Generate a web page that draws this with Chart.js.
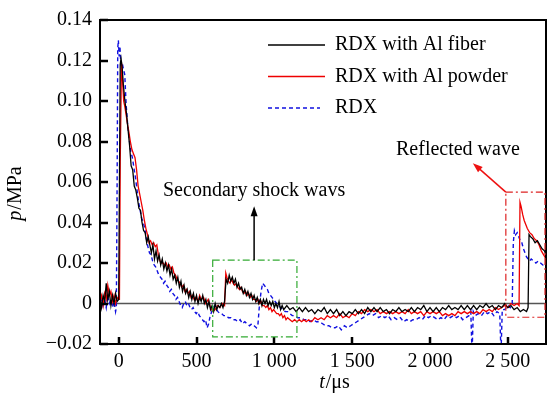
<!doctype html>
<html lang="en">
<head>
  <meta charset="utf-8">
  <title>Pressure history</title>
  <style>
    * { margin: 0; padding: 0; }
    body { background: #fff; }
    .chartBox { width: 547px; height: 395px; }
  </style>
</head>
<body>
  <div class="chartBox"><canvas id="myChart" width="547" height="395"></canvas></div>
  <script src="https://cdn.jsdelivr.net/npm/chart.js/dist/chart.umd.min.js"></script>
  <script>
    // setup
    const seriesNames = ['RDX with Al fiber', 'RDX with Al powder', 'RDX'];
    const yTicks = [-0.02, 0, 0.02, 0.04, 0.06, 0.08, 0.10, 0.12, 0.14];
    const yTickLabels = ['\u22120.02', '0', '0.02', '0.04', '0.06', '0.08', '0.10', '0.12', '0.14'];
    const xTicks = [0, 500, 1000, 1500, 2000, 2500];
    const xTickLabels = ['0', '500', '1 000', '1 500', '2 000', '2 500'];

    // RDX with Al fiber
    const fiberT = [-120,-110,-100,-90,-80,-70,-60,-50,-40,-30,-20,-10,0,5,10,15,22,30,40,50,60,70,80,90,100,110,120,130,140,150,160,170,180,190,200,210,220,230,240,250,260,270,280,290,300,310,320,330,340,350,360,370,380,390,400,410,420,430,440,450,460,470,480,490,500,510,520,530,540,550,560,570,580,590,600,610,620,630,640,650,660,670,680,690,700,710,720,730,740,750,760,770,780,790,800,810,820,830,840,850,860,870,880,890,900,910,920,930,940,950,960,970,980,990,1000,1010,1020,1030,1040,1050,1060,1080,1100,1120,1140,1160,1180,1200,1220,1240,1260,1280,1300,1320,1340,1360,1380,1400,1420,1440,1460,1480,1500,1520,1540,1560,1580,1600,1620,1640,1660,1680,1700,1720,1740,1760,1780,1800,1820,1840,1860,1880,1900,1920,1940,1960,1980,2000,2020,2040,2060,2080,2100,2120,2140,2160,2180,2200,2220,2240,2260,2280,2300,2320,2340,2360,2380,2400,2420,2440,2460,2480,2500,2520,2540,2560,2580,2600,2620,2630,2636,2645,2660,2675,2690,2705,2720,2735,2745];
    const fiberP = [0.003,-0.002,0.004,0.001,0.010,0.002,0.006,-0.001,0.004,0.000,0.005,0.001,0.002,0.060,0.118,0.121,0.117,0.108,0.100,0.094,0.086,0.078,0.068,0.066,0.058,0.056,0.052,0.047,0.046,0.040,0.036,0.035,0.030,0.033,0.029,0.025,0.029,0.022,0.026,0.021,0.024,0.019,0.022,0.017,0.020,0.016,0.019,0.014,0.017,0.012,0.014,0.010,0.013,0.008,0.011,0.006,0.009,0.005,0.007,0.003,0.006,0.002,0.005,0.001,0.004,0.000,0.003,0.001,0.004,0.000,0.002,-0.002,0.001,-0.003,-0.001,-0.004,0.000,-0.003,-0.001,-0.002,0.000,-0.002,0.001,0.012,0.010,0.014,0.011,0.013,0.010,0.012,0.008,0.010,0.007,0.008,0.005,0.007,0.004,0.006,0.003,0.005,0.002,0.004,0.001,0.003,0.000,0.002,-0.001,0.002,0.000,0.002,-0.001,0.001,-0.001,0.001,-0.002,0.000,-0.002,0.001,-0.003,-0.001,-0.003,-0.001,-0.003,-0.002,-0.004,-0.002,-0.004,-0.002,-0.004,-0.003,-0.005,-0.003,-0.004,-0.002,-0.005,-0.003,-0.005,-0.003,-0.006,-0.004,-0.006,-0.004,-0.005,-0.003,-0.005,-0.003,-0.005,-0.002,-0.004,-0.002,-0.004,-0.002,-0.004,-0.003,-0.005,-0.003,-0.004,-0.002,-0.004,-0.003,-0.004,-0.002,-0.004,-0.002,-0.003,-0.001,-0.004,-0.002,-0.004,-0.002,-0.004,-0.002,-0.003,-0.001,-0.003,-0.002,-0.003,-0.001,-0.003,-0.001,-0.003,-0.001,-0.003,-0.001,-0.002,0.000,-0.002,-0.001,-0.003,-0.001,-0.002,0.000,-0.002,-0.001,-0.003,-0.002,-0.004,-0.003,-0.004,-0.002,0.034,0.033,0.032,0.030,0.031,0.029,0.027,0.026,0.024];

    // RDX with Al powder
    const powderT = [-120,-110,-100,-90,-80,-70,-60,-50,-40,-30,-20,-10,0,5,10,18,25,32,40,50,58,65,75,85,95,105,115,125,135,145,155,165,175,185,195,205,215,225,235,245,255,265,275,285,295,305,315,325,335,345,355,365,375,385,395,405,415,425,435,445,455,465,475,485,495,510,520,530,545,560,575,590,605,620,635,650,665,680,688,695,705,715,725,735,745,755,765,775,785,795,805,815,825,835,845,855,865,875,885,895,905,915,925,935,945,955,965,975,985,995,1005,1015,1025,1035,1045,1055,1065,1075,1085,1100,1115,1130,1145,1160,1175,1190,1205,1220,1240,1260,1280,1300,1320,1340,1360,1380,1400,1420,1440,1460,1480,1500,1520,1540,1560,1580,1600,1620,1640,1660,1680,1700,1720,1740,1760,1780,1800,1820,1840,1860,1880,1900,1920,1940,1960,1980,2000,2020,2040,2060,2080,2100,2120,2140,2160,2180,2200,2220,2240,2260,2280,2300,2320,2340,2360,2380,2400,2420,2440,2460,2480,2500,2520,2540,2560,2572,2578,2585,2595,2605,2615,2625,2640,2655,2670,2685,2700,2715,2730,2745];
    const powderP = [0.001,0.004,-0.001,0.005,0.002,0.009,0.004,0.006,0.001,0.004,0.000,0.003,0.002,0.002,0.070,0.119,0.110,0.100,0.097,0.092,0.088,0.085,0.080,0.076,0.074,0.072,0.066,0.058,0.054,0.050,0.046,0.041,0.037,0.034,0.030,0.031,0.029,0.030,0.028,0.029,0.024,0.021,0.020,0.020,0.019,0.020,0.018,0.019,0.017,0.018,0.015,0.014,0.012,0.011,0.010,0.008,0.009,0.006,0.007,0.005,0.006,0.003,0.004,0.002,0.003,0.001,0.004,0.002,0.003,0.000,0.002,-0.002,-0.004,-0.003,-0.001,-0.002,0.000,-0.001,0.015,0.013,0.011,0.010,0.012,0.010,0.009,0.010,0.008,0.007,0.008,0.006,0.005,0.006,0.004,0.005,0.003,0.004,0.002,0.002,0.001,0.002,0.000,0.001,-0.001,-0.001,-0.002,-0.001,-0.003,-0.002,-0.004,-0.003,-0.004,-0.005,-0.005,-0.006,-0.005,-0.007,-0.006,-0.008,-0.007,-0.008,-0.009,-0.008,-0.009,-0.008,-0.009,-0.008,-0.009,-0.008,-0.009,-0.007,-0.008,-0.007,-0.008,-0.006,-0.007,-0.006,-0.007,-0.005,-0.007,-0.006,-0.007,-0.005,-0.006,-0.004,-0.005,-0.003,-0.004,-0.003,-0.004,-0.003,-0.005,-0.004,-0.005,-0.004,-0.005,-0.004,-0.005,-0.004,-0.005,-0.003,-0.005,-0.004,-0.005,-0.004,-0.006,-0.004,-0.005,-0.004,-0.005,-0.004,-0.006,-0.005,-0.006,-0.005,-0.006,-0.004,-0.005,-0.004,-0.005,-0.004,-0.005,-0.004,-0.005,-0.003,-0.004,-0.003,-0.004,-0.002,-0.003,-0.002,-0.001,-0.002,0.000,-0.001,0.000,-0.001,0.050,0.048,0.044,0.041,0.039,0.037,0.035,0.034,0.032,0.031,0.029,0.026,0.024,0.022];

    // RDX
    const rdxT = [-120,-110,-100,-90,-80,-70,-60,-50,-40,-30,-20,-15,-10,-6,-2,3,8,14,22,30,39,48,58,68,78,88,98,108,118,128,138,148,158,168,178,188,198,208,218,228,238,248,258,268,278,288,298,308,318,328,338,348,358,368,378,388,398,408,418,428,438,448,458,468,478,488,498,508,518,528,538,548,558,568,578,588,598,608,618,628,638,650,662,675,690,705,720,735,750,765,780,795,810,825,840,855,870,885,895,905,915,925,935,945,955,965,975,985,995,1005,1015,1025,1040,1055,1070,1085,1100,1115,1130,1150,1170,1190,1210,1230,1250,1270,1290,1310,1330,1350,1370,1390,1410,1430,1450,1470,1490,1510,1530,1550,1570,1590,1610,1630,1650,1670,1690,1710,1730,1750,1770,1790,1810,1830,1850,1870,1890,1910,1930,1950,1970,1990,2010,2030,2050,2070,2090,2110,2130,2150,2170,2190,2210,2230,2250,2262,2270,2278,2290,2310,2330,2350,2370,2390,2410,2430,2448,2456,2464,2480,2500,2515,2528,2535,2542,2550,2560,2570,2580,2590,2600,2610,2620,2630,2640,2650,2665,2680,2695,2710,2725,2745];
    const rdxP = [0.000,0.003,-0.001,0.002,-0.002,0.004,0.000,0.002,-0.002,0.001,-0.004,-0.002,0.060,0.126,0.130,0.122,0.127,0.118,0.119,0.116,0.113,0.098,0.088,0.081,0.075,0.072,0.067,0.062,0.056,0.050,0.046,0.042,0.040,0.037,0.032,0.028,0.025,0.024,0.021,0.019,0.018,0.016,0.014,0.013,0.012,0.010,0.011,0.009,0.008,0.006,0.007,0.005,0.004,0.002,0.003,0.001,-0.001,-0.002,0.000,0.001,-0.001,0.000,-0.002,-0.003,-0.002,-0.004,-0.005,-0.004,-0.006,-0.007,-0.008,-0.009,-0.008,-0.012,-0.010,-0.006,-0.004,-0.002,-0.001,-0.003,-0.004,-0.005,-0.005,-0.006,-0.006,-0.007,-0.007,-0.008,-0.008,-0.009,-0.008,-0.010,-0.009,-0.010,-0.011,-0.010,-0.011,-0.012,-0.010,0.000,0.006,0.010,0.009,0.008,0.007,0.005,0.004,0.003,0.002,0.001,0.000,-0.001,-0.002,-0.003,-0.004,-0.004,-0.005,-0.006,-0.006,-0.007,-0.007,-0.008,-0.008,-0.009,-0.008,-0.009,-0.009,-0.010,-0.011,-0.011,-0.012,-0.012,-0.011,-0.013,-0.011,-0.012,-0.011,-0.010,-0.009,-0.008,-0.007,-0.006,-0.005,-0.006,-0.005,-0.007,-0.006,-0.007,-0.006,-0.008,-0.007,-0.008,-0.007,-0.009,-0.008,-0.009,-0.008,-0.008,-0.007,-0.008,-0.006,-0.007,-0.006,-0.007,-0.008,-0.007,-0.008,-0.006,-0.007,-0.006,-0.007,-0.006,-0.008,-0.007,-0.006,-0.004,-0.025,-0.004,-0.006,-0.005,-0.006,-0.004,-0.005,-0.004,-0.006,-0.004,-0.005,-0.025,-0.003,-0.003,-0.001,-0.002,0.000,0.030,0.036,0.034,0.035,0.033,0.031,0.030,0.027,0.025,0.023,0.022,0.021,0.022,0.021,0.020,0.021,0.020,0.019,0.019];

    const pts = (ts, ps) => ts.map((t, i) => ({ x: t, y: ps[i] }));

    const data = {
      datasets: [
        { label: seriesNames[0], data: pts(fiberT, fiberP), borderColor: '#000000', borderWidth: 1.3 },
        { label: seriesNames[1], data: pts(powderT, powderP), borderColor: '#ee0000', borderWidth: 1.3 },
        { label: seriesNames[2], data: pts(rdxT, rdxP), borderColor: '#1010e0', borderWidth: 1.4, borderDash: [4, 3] }
      ]
    };

    const serif = '"Liberation Serif", "DejaVu Serif", serif';

    // frame, inner ticks, zero line, legend, notes, axis titles
    const decorate = {
      id: 'decorate',
      beforeDatasetsDraw(chart) {
        const { ctx, chartArea: a, scales: { x, y } } = chart;
        ctx.save();
        ctx.strokeStyle = '#555';
        ctx.lineWidth = 1.5;
        ctx.beginPath();
        ctx.moveTo(a.left, y.getPixelForValue(0));
        ctx.lineTo(a.right, y.getPixelForValue(0));
        ctx.stroke();
        ctx.restore();
      },
      afterDatasetsDraw(chart) {
        const { ctx, chartArea: a, scales: { x, y } } = chart;
        ctx.save();
        // frame
        ctx.strokeStyle = '#000';
        ctx.lineWidth = 2;
        ctx.strokeRect(a.left, a.top, a.right - a.left, a.bottom - a.top);
        // inner ticks
        ctx.lineWidth = 2.5;
        ctx.beginPath();
        xTicks.forEach(v => {
          const px = Math.round(x.getPixelForValue(v));
          ctx.moveTo(px, a.bottom);
          ctx.lineTo(px, a.bottom - 7);
        });
        yTicks.forEach(v => {
          const py = Math.round(y.getPixelForValue(v));
          ctx.moveTo(a.left, py);
          ctx.lineTo(a.left + 8, py);
        });
        ctx.stroke();

        // legend
        ctx.font = '20px ' + serif;
        ctx.textBaseline = 'alphabetic';
        ctx.textAlign = 'left';
        chart.data.datasets.forEach((ds, i) => {
          const ly = 45 + i * 31.5;
          ctx.strokeStyle = ds.borderColor;
          ctx.lineWidth = 1.5;
          ctx.setLineDash(ds.borderDash || []);
          ctx.beginPath();
          ctx.moveTo(268, ly);
          ctx.lineTo(ds.borderDash ? 320 : 325, ly);
          ctx.stroke();
          ctx.setLineDash([]);
          ctx.fillStyle = '#000';
          ctx.fillText(ds.label, 335, ly + 5);
        });

        // secondary shock note (boxes in data units)
        const gx0 = x.getPixelForValue(604), gx1 = x.getPixelForValue(1145);
        const gy0 = y.getPixelForValue(0.0214), gy1 = y.getPixelForValue(-0.0165);
        ctx.strokeStyle = '#33aa33';
        ctx.lineWidth = 1.2;
        ctx.setLineDash([7, 3, 2, 3]);
        ctx.strokeRect(gx0, gy0, gx1 - gx0, gy1 - gy0);
        const ax = x.getPixelForValue(870);
        ctx.setLineDash([]);
        ctx.strokeStyle = '#000';
        ctx.fillStyle = '#000';
        ctx.lineWidth = 1.5;
        ctx.beginPath();
        ctx.moveTo(ax, gy0);
        ctx.lineTo(ax, gy0 - 46);
        ctx.stroke();
        ctx.beginPath();
        ctx.moveTo(ax, gy0 - 54);
        ctx.lineTo(ax - 3.5, gy0 - 44);
        ctx.lineTo(ax + 3.5, gy0 - 44);
        ctx.closePath();
        ctx.fill();
        ctx.fillText('Secondary shock wavs', 163, 196);

        // reflected wave note
        const rx0 = x.getPixelForValue(2487), rx1 = a.right - 1;
        const ry0 = y.getPixelForValue(0.055), ry1 = y.getPixelForValue(-0.0068);
        ctx.strokeStyle = '#dd2222';
        ctx.lineWidth = 1.2;
        ctx.setLineDash([7, 3, 2, 3]);
        ctx.strokeRect(rx0, ry0, rx1 - rx0, ry1 - ry0);
        ctx.setLineDash([]);
        ctx.strokeStyle = '#ee1111';
        ctx.fillStyle = '#ee1111';
        ctx.lineWidth = 1.5;
        const tipX = rx0 - 33, tipY = ry0 - 29;
        const ang = Math.atan2(tipY - ry0, tipX - rx0);
        ctx.beginPath();
        ctx.moveTo(rx0, ry0);
        ctx.lineTo(tipX - 8 * Math.cos(ang), tipY - 8 * Math.sin(ang));
        ctx.stroke();
        ctx.beginPath();
        ctx.moveTo(tipX, tipY);
        ctx.lineTo(tipX - 10 * Math.cos(ang) + 3.5 * Math.sin(ang), tipY - 10 * Math.sin(ang) - 3.5 * Math.cos(ang));
        ctx.lineTo(tipX - 10 * Math.cos(ang) - 3.5 * Math.sin(ang), tipY - 10 * Math.sin(ang) + 3.5 * Math.cos(ang));
        ctx.closePath();
        ctx.fill();
        ctx.fillStyle = '#000';
        ctx.fillText('Reflected wave', 396, 155);

        // axis titles: italic symbol + upright unit
        const drawTitle = (sym, unit, cx, cy) => {
          ctx.font = 'italic 20px ' + serif;
          const w1 = ctx.measureText(sym).width;
          ctx.font = '20px ' + serif;
          const w2 = ctx.measureText(unit).width;
          let sx = cx - (w1 + w2) / 2;
          ctx.textBaseline = 'middle';
          ctx.font = 'italic 20px ' + serif;
          ctx.fillText(sym, sx, cy);
          ctx.font = '20px ' + serif;
          ctx.fillText(unit, sx + w1 + 1, cy);
        };
        ctx.fillStyle = '#000';
        drawTitle('t', '/\u03bcs', 334, 383);
        ctx.translate(16, 194);
        ctx.rotate(-Math.PI / 2);
        drawTitle('p', '/MPa', 0, 0);
        ctx.restore();
      }
    };

    // config
    const config = {
      type: 'line',
      data,
      options: {
        responsive: false,
        animation: false,
        parsing: true,
        layout: { padding: { top: 15, right: 1, left: 0, bottom: 0 } },
        elements: { point: { radius: 0 }, line: { tension: 0 } },
        plugins: { legend: { display: false }, tooltip: { enabled: false } },
        scales: {
          x: {
            type: 'linear',
            min: -120,
            max: 2745,
            grid: { display: false, drawTicks: false },
            border: { display: false },
            afterBuildTicks: s => { s.ticks = xTicks.map(v => ({ value: v })); },
            afterFit: s => { s.height = 51; },
            ticks: {
              padding: 6,
              maxRotation: 0,
              autoSkip: false,
              color: '#000',
              font: { family: serif, size: 20 },
              callback: v => xTickLabels[xTicks.indexOf(v)]
            }
          },
          y: {
            min: -0.02,
            max: 0.14,
            grid: { display: false, drawTicks: false },
            border: { display: false },
            afterBuildTicks: s => { s.ticks = yTicks.map(v => ({ value: v })); },
            afterFit: s => { s.width = 100; },
            ticks: {
              padding: 8,
              autoSkip: false,
              color: '#000',
              font: { family: serif, size: 20 },
              callback: v => yTickLabels[yTicks.findIndex(t => Math.abs(t - v) < 1e-9)]
            }
          }
        }
      },
      plugins: [decorate]
    };

    // render init block
    const myChart = new Chart(document.getElementById('myChart'), config);
  </script>
</body>
</html>
